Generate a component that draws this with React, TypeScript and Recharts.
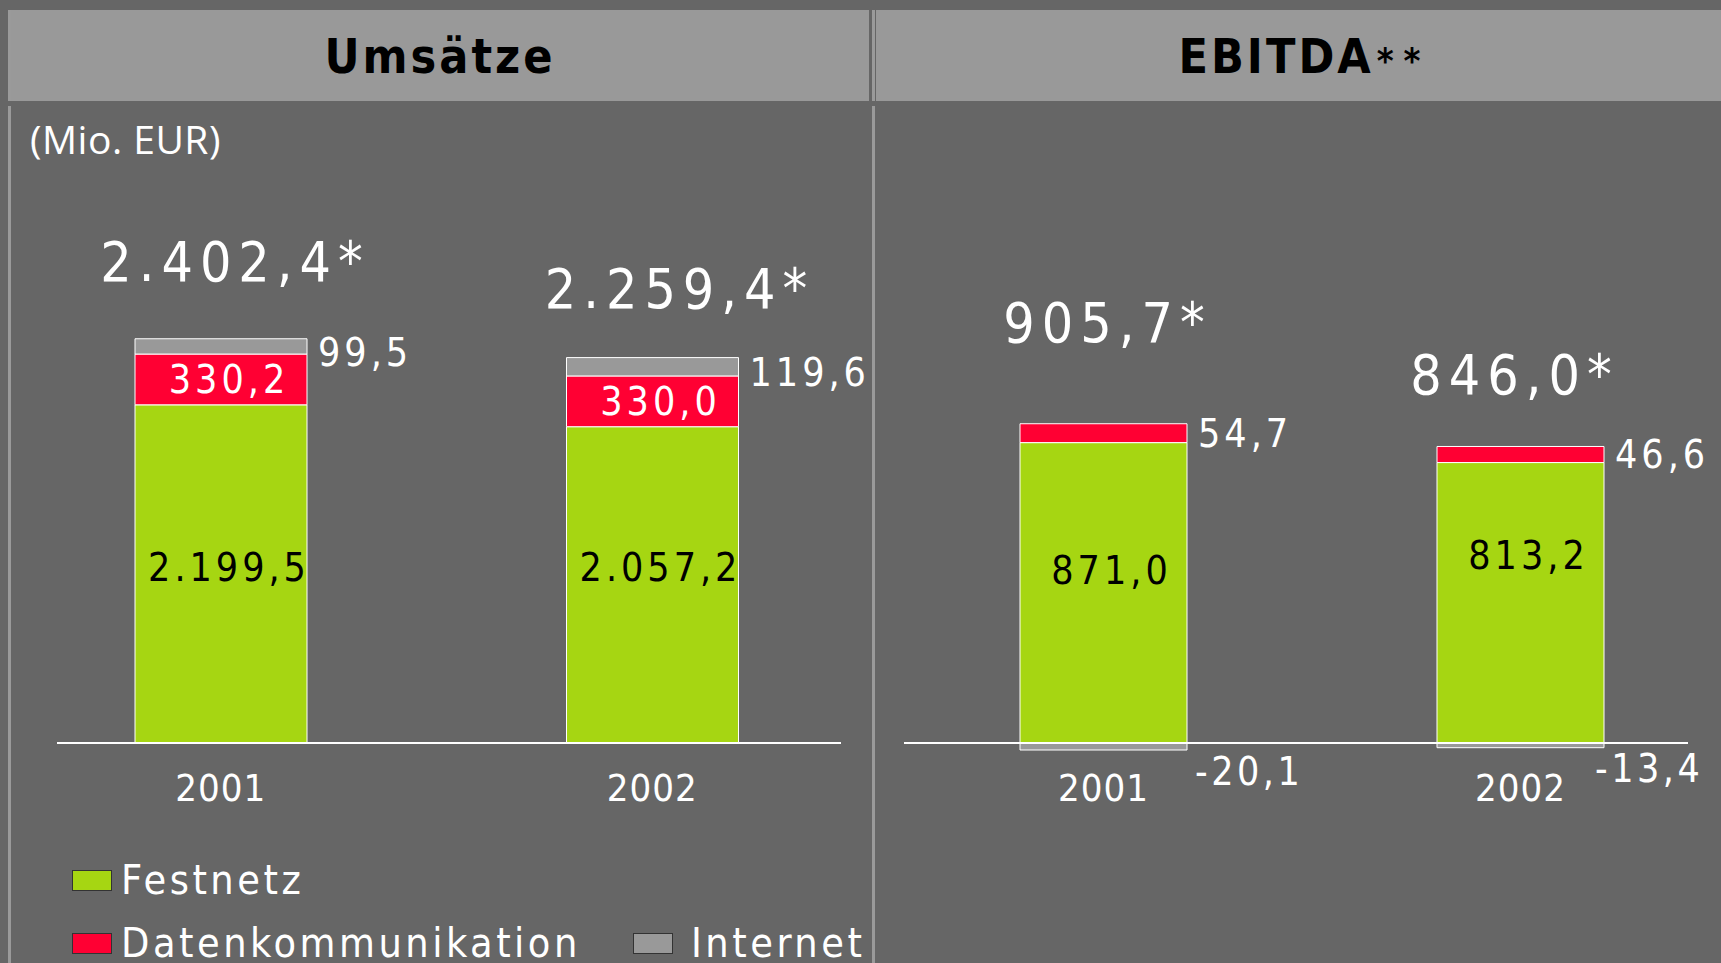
import React from 'react';
import { BarChart, Bar, XAxis, YAxis, LabelList, Legend, ReferenceLine } from 'recharts';

const years = ['2001', '2002'];
const umsatzFestnetz = [2199.5, 2057.2];
const umsatzDaten = [330.2, 330.0];
const umsatzInternet = [99.5, 119.6];
const umsatzTotals = ['2.402,4*', '2.259,4*'];

const ebitdaFestnetz = [871.0, 813.2];
const ebitdaDaten = [54.7, 46.6];
const ebitdaInternet = [-20.1, -13.4];
const ebitdaTotals = ['905,7*', '846,0*'];

const seriesNames = ['Festnetz', 'Datenkommunikation', 'Internet'];

const GREEN = '#a6d612';
const RED = '#ff0033';
const GRAY = '#999999';
const BG = '#666666';
const FONT = '"Liberation Sans Narrow", "DejaVu Sans Condensed", "Roboto Condensed", Arial, sans-serif';

const umsatzData = years.map((year, i) => ({
  year,
  festnetz: umsatzFestnetz[i],
  daten: umsatzDaten[i],
  internet: umsatzInternet[i],
}));

const ebitdaData = years.map((year, i) => ({
  year,
  festnetz: ebitdaFestnetz[i],
  daten: ebitdaDaten[i],
  internet: ebitdaInternet[i],
}));

function fmt(v: number) {
  const [i, d] = Math.abs(v).toFixed(1).split('.');
  return (v < 0 ? '-' : '') + i.replace(/\B(?=(\d{3})+(?!\d))/g, '.') + ',' + d;
}

const box = (p: any) => {
  const top = Math.min(p.y, p.y + p.height);
  const bottom = Math.max(p.y, p.y + p.height);
  return { left: p.x, right: p.x + p.width, cx: p.x + p.width / 2, top, bottom, cy: (top + bottom) / 2 };
};

const txt = { fontFamily: FONT, fontSize: 39, letterSpacing: 4 };

const sideLabel = (dy: number) => (p: any) => {
  const b = box(p);
  return (
    <text x={b.right + 11} y={b.cy + dy} fill="#fff" dominantBaseline="central" style={txt}>
      {fmt(p.value)}
    </text>
  );
};

const innerLabel = (p: any) => {
  const b = box(p);
  return (
    <text x={b.cx + 8} y={b.cy} fill="#fff" textAnchor="middle" dominantBaseline="central" style={txt}>
      {fmt(p.value)}
    </text>
  );
};

const baseLabel = (dys: number[]) => (p: any) => {
  const b = box(p);
  return (
    <text x={b.cx + 8} y={b.bottom - 176 + dys[p.index]} fill="#000" textAnchor="middle" dominantBaseline="central" style={txt}>
      {fmt(p.value)}
    </text>
  );
};

const negLabel = (dxs: number[]) => (p: any) => {
  const b = box(p);
  return (
    <text x={b.right + dxs[p.index]} y={b.bottom + 21} fill="#fff" dominantBaseline="central" style={{ ...txt, letterSpacing: 3.5 }}>
      {fmt(p.value)}
    </text>
  );
};

// per-bar nudges of the big total labels: [dx, gap above bar top]
const totalLabel = (totals: string[], nudge: number[][]) => (p: any) => {
  const b = box(p);
  const [dx, gap] = nudge[p.index];
  return (
    <text x={b.cx + dx} y={b.top - gap} fill="#fff" textAnchor="middle" style={{ fontFamily: FONT, fontSize: 55, letterSpacing: 7 }}>
      {totals[p.index]}
    </text>
  );
};

const yearTick = (shift: number) => (p: any) => (
  <text x={p.x} y={p.y + shift} fill="#fff" textAnchor="middle" style={{ fontFamily: FONT, fontSize: 38, letterSpacing: 1 }}>
    {p.payload.value}
  </text>
);

const baseLine = (inL: number, inR: number) => (p: any) => (
  <line x1={p.x1 + inL} x2={p.x2 - inR} y1={p.y1} y2={p.y2} stroke="#fff" strokeWidth={2} />
);

const legendContent = (props: any) => {
  const payload = props.payload || [];
  const items = seriesNames.map((n) => payload.find((e: any) => e.value === n)).filter(Boolean);
  const item = (e: any, w?: number, gap = 9) => (
    <div key={e.value} style={{ display: 'flex', alignItems: 'center', width: w }}>
      <span style={{ width: 38, height: 19, background: e.color, border: '1px solid #333', marginRight: gap }} />
      <span style={{ color: '#fff', fontFamily: FONT, fontSize: 41, letterSpacing: 3.5, lineHeight: '44px' }}>{e.value}</span>
    </div>
  );
  return (
    <div style={{ display: 'flex', flexDirection: 'column', gap: 19 }}>
      <div style={{ display: 'flex' }}>{items[0] && item(items[0])}</div>
      <div style={{ display: 'flex' }}>
        {items[1] && item(items[1], 561)}
        {items[2] && item(items[2], undefined, 18)}
      </div>
    </div>
  );
};

export default function App() {
  return (
    <div style={{ position: 'absolute', left: 0, top: 0, width: 1721, height: 963, background: BG, overflow: 'hidden' }}>
      <div style={{ position: 'absolute', left: 8, top: 10, width: 3, height: 953, background: '#9a9a9a' }} />
      <div style={{ position: 'absolute', left: 872, top: 10, width: 3, height: 953, background: '#9a9a9a' }} />
      <div style={{ position: 'absolute', left: 0, top: 101, width: 1721, height: 5, background: BG }} />
      <div style={{ position: 'absolute', left: 11, top: 10, width: 858, height: 91, background: GRAY, display: 'flex', alignItems: 'center', justifyContent: 'center' }}>
        <span style={{ fontFamily: FONT, fontWeight: 700, fontSize: 48, letterSpacing: 3, color: '#000' }}>Umsätze</span>
      </div>
      <div style={{ position: 'absolute', left: 876, top: 10, width: 845, height: 91, background: GRAY, display: 'flex', alignItems: 'center', justifyContent: 'center' }}>
        <span style={{ fontFamily: FONT, fontWeight: 700, fontSize: 48, letterSpacing: 3, color: '#000', marginLeft: 12 }}>
          EBITDA<span style={{ fontSize: 36, letterSpacing: 10, marginLeft: 3 }}>**</span>
        </span>
      </div>
      <div style={{ position: 'absolute', left: 30, top: 112, color: '#fff', fontFamily: '"Open Sans", sans-serif', fontSize: 39, letterSpacing: 0.5 }}>
        (Mio. EUR)
      </div>

      <div style={{ position: 'absolute', left: 0, top: 0 }}>
        <BarChart width={873} height={963} data={umsatzData} margin={{ top: 128, right: 5, bottom: 160, left: 5 }}>
          <XAxis dataKey="year" axisLine={false} tickLine={false} height={60} tick={yearTick(50)} />
          <YAxis hide domain={[0, 4000]} />
          <ReferenceLine y={0} shape={baseLine(52, 27)} />
          <Legend layout="vertical" align="center" verticalAlign="middle" content={legendContent} wrapperStyle={{ left: 72, top: 858, width: 800 }} />
          <Bar dataKey="festnetz" name={seriesNames[0]} stackId="a" fill={GREEN} stroke="#fff" strokeWidth={1} barSize={172} isAnimationActive={false}>
            <LabelList dataKey="festnetz" content={baseLabel([0, 0])} />
          </Bar>
          <Bar dataKey="daten" name={seriesNames[1]} stackId="a" fill={RED} stroke="#fff" strokeWidth={1} barSize={172} isAnimationActive={false}>
            <LabelList dataKey="daten" content={innerLabel} />
          </Bar>
          <Bar dataKey="internet" name={seriesNames[2]} stackId="a" fill={GRAY} stroke="#fff" strokeWidth={1} barSize={172} isAnimationActive={false}>
            <LabelList dataKey="internet" content={sideLabel(6)} />
            <LabelList dataKey="internet" content={totalLabel(umsatzTotals, [[14, 58], [27, 50]])} />
          </Bar>
        </BarChart>
      </div>

      <div style={{ position: 'absolute', left: 873, top: 0 }}>
        <BarChart width={848} height={963} data={ebitdaData} stackOffset="sign" margin={{ top: 128, right: -8, bottom: 103, left: 22 }}>
          <XAxis dataKey="year" axisLine={false} tickLine={false} height={60} tick={yearTick(-7)} />
          <YAxis hide domain={[-165, 1783]} />
          <ReferenceLine y={0} shape={baseLine(9, 41)} />
          <Bar dataKey="festnetz" stackId="a" fill={GREEN} stroke="#fff" strokeWidth={1} barSize={167} isAnimationActive={false}>
            <LabelList dataKey="festnetz" content={baseLabel([3, -12])} />
          </Bar>
          <Bar dataKey="daten" stackId="a" fill={RED} stroke="#fff" strokeWidth={1} barSize={167} isAnimationActive={false}>
            <LabelList dataKey="daten" content={sideLabel(0)} />
            <LabelList dataKey="daten" content={totalLabel(ebitdaTotals, [[4, 82], [-6, 52]])} />
          </Bar>
          <Bar dataKey="internet" stackId="a" fill={GRAY} stroke="#fff" strokeWidth={1} barSize={167} isAnimationActive={false}>
            <LabelList dataKey="internet" content={negLabel([8, -9])} />
          </Bar>
        </BarChart>
      </div>
    </div>
  );
}
